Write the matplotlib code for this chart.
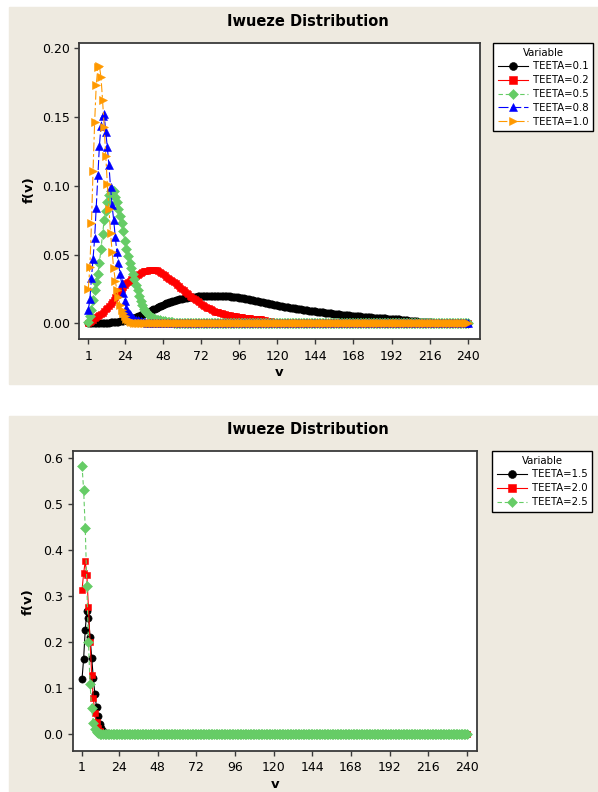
import numpy as np
import matplotlib
matplotlib.use("Agg")
import matplotlib.pyplot as plt
from matplotlib.patches import Rectangle

W, H = 598, 792
BEIGE = "#EEEAE0"
FRAME = "#3a3a3a"
plt.rcParams['font.family'] = ['DejaVu Sans']

#%% data (f(v) for v = 1..240, unlisted tail = 0)
v = np.arange(1, 241)
xticks = [1, 24, 48, 72, 96, 120, 144, 168, 192, 216, 240]
yticks_top = [0.00, 0.05, 0.10, 0.15, 0.20]
yticks_bot = [0.0, 0.1, 0.2, 0.3, 0.4, 0.5, 0.6]

teeta_01 = [
    0.0000, 0.0000, 0.0000, 0.0001, 0.0001, 0.0001, 0.0002, 0.0002, 0.0003, 0.0003,
    0.0004, 0.0004, 0.0005, 0.0006, 0.0007, 0.0008, 0.0009, 0.0010, 0.0011, 0.0013,
    0.0015, 0.0017, 0.0019, 0.0022, 0.0025, 0.0028, 0.0031, 0.0035, 0.0038, 0.0042,
    0.0046, 0.0050, 0.0055, 0.0060, 0.0065, 0.0070, 0.0075, 0.0080, 0.0085, 0.0090,
    0.0096, 0.0101, 0.0107, 0.0112, 0.0118, 0.0123, 0.0129, 0.0134, 0.0140, 0.0145,
    0.0149, 0.0153, 0.0157, 0.0161, 0.0165, 0.0168, 0.0171, 0.0174, 0.0177, 0.0180,
    0.0182, 0.0184, 0.0186, 0.0188, 0.0190, 0.0191, 0.0192, 0.0194, 0.0195, 0.0196,
    0.0197, 0.0197, 0.0198, 0.0198, 0.0199, 0.0199, 0.0200, 0.0200, 0.0200, 0.0200,
    0.0200, 0.0200, 0.0199, 0.0199, 0.0199, 0.0198, 0.0198, 0.0197, 0.0197, 0.0196,
    0.0195, 0.0194, 0.0192, 0.0191, 0.0189, 0.0187, 0.0185, 0.0183, 0.0181, 0.0178,
    0.0176, 0.0174, 0.0172, 0.0169, 0.0167, 0.0165, 0.0162, 0.0160, 0.0157, 0.0155,
    0.0153, 0.0150, 0.0148, 0.0145, 0.0143, 0.0141, 0.0138, 0.0136, 0.0133, 0.0131,
    0.0129, 0.0127, 0.0124, 0.0122, 0.0120, 0.0118, 0.0116, 0.0114, 0.0112, 0.0110,
    0.0108, 0.0106, 0.0105, 0.0103, 0.0101, 0.0099, 0.0098, 0.0096, 0.0095, 0.0093,
    0.0092, 0.0090, 0.0089, 0.0087, 0.0086, 0.0084, 0.0083, 0.0081, 0.0080, 0.0078,
    0.0077, 0.0075, 0.0074, 0.0072, 0.0071, 0.0070, 0.0068, 0.0067, 0.0065, 0.0064,
    0.0063, 0.0062, 0.0060, 0.0059, 0.0058, 0.0057, 0.0056, 0.0054, 0.0053, 0.0052,
    0.0051, 0.0050, 0.0049, 0.0047, 0.0046, 0.0045, 0.0044, 0.0044, 0.0043, 0.0042,
    0.0041, 0.0040, 0.0040, 0.0039, 0.0038, 0.0037, 0.0036, 0.0036, 0.0035, 0.0034,
    0.0033, 0.0033, 0.0032, 0.0032, 0.0031, 0.0030, 0.0029, 0.0027, 0.0026, 0.0024,
    0.0023, 0.0021, 0.0020, 0.0018, 0.0017, 0.0016, 0.0015, 0.0014, 0.0013, 0.0012,
    0.0011, 0.0010, 0.0009, 0.0009, 0.0008, 0.0007, 0.0007, 0.0006, 0.0006, 0.0005,
    0.0005, 0.0004, 0.0004, 0.0004, 0.0003, 0.0003, 0.0003, 0.0002, 0.0002, 0.0002,
    0.0002, 0.0001, 0.0001, 0.0001, 0.0001, 0.0001, 0.0001, 0.0001, 0.0001, 0.0001,
]
teeta_02 = [
    0.0005, 0.0010, 0.0018, 0.0027, 0.0036, 0.0044, 0.0052, 0.0060, 0.0068, 0.0077,
    0.0089, 0.0101, 0.0113, 0.0126, 0.0140, 0.0156, 0.0172, 0.0188, 0.0204, 0.0220,
    0.0234, 0.0248, 0.0262, 0.0276, 0.0290, 0.0300, 0.0310, 0.0320, 0.0330, 0.0340,
    0.0347, 0.0354, 0.0361, 0.0368, 0.0375, 0.0378, 0.0381, 0.0384, 0.0387, 0.0390,
    0.0390, 0.0390, 0.0389, 0.0386, 0.0380, 0.0374, 0.0366, 0.0358, 0.0349, 0.0340,
    0.0332, 0.0324, 0.0316, 0.0308, 0.0300, 0.0290, 0.0280, 0.0270, 0.0260, 0.0250,
    0.0240, 0.0230, 0.0220, 0.0210, 0.0200, 0.0192, 0.0184, 0.0176, 0.0168, 0.0160,
    0.0152, 0.0144, 0.0136, 0.0128, 0.0120, 0.0114, 0.0108, 0.0102, 0.0096, 0.0090,
    0.0086, 0.0083, 0.0079, 0.0076, 0.0072, 0.0069, 0.0066, 0.0064, 0.0061, 0.0058,
    0.0056, 0.0054, 0.0052, 0.0050, 0.0048, 0.0046, 0.0045, 0.0043, 0.0042, 0.0040,
    0.0039, 0.0038, 0.0036, 0.0035, 0.0034, 0.0033, 0.0032, 0.0031, 0.0029, 0.0028,
    0.0025, 0.0023, 0.0020, 0.0018, 0.0015, 0.0014, 0.0012, 0.0011, 0.0010, 0.0009,
    0.0008, 0.0007, 0.0006, 0.0006, 0.0005, 0.0004, 0.0004, 0.0003, 0.0003, 0.0003,
    0.0002, 0.0002, 0.0002, 0.0002, 0.0002, 0.0001, 0.0001, 0.0001, 0.0001, 0.0001,
]
teeta_05 = [
    0.0010, 0.0050, 0.0100, 0.0170, 0.0240, 0.0300, 0.0360, 0.0440, 0.0540, 0.0650,
    0.0750, 0.0820, 0.0880, 0.0930, 0.0960, 0.0970, 0.0960, 0.0920, 0.0880, 0.0830,
    0.0780, 0.0730, 0.0670, 0.0600, 0.0540, 0.0490, 0.0440, 0.0400, 0.0360, 0.0320,
    0.0280, 0.0240, 0.0200, 0.0165, 0.0130, 0.0105, 0.0088, 0.0073, 0.0060, 0.0050,
    0.0042, 0.0036, 0.0031, 0.0027, 0.0024, 0.0021, 0.0018, 0.0016, 0.0014, 0.0012,
    0.0010, 0.0009, 0.0008, 0.0007, 0.0006, 0.0005, 0.0004, 0.0003, 0.0002, 0.0001,
]
teeta_08 = [
    0.0096, 0.0174, 0.0330, 0.0470, 0.0620, 0.0840, 0.1075, 0.1290, 0.1437, 0.1510,
    0.1520, 0.1390, 0.1280, 0.1150, 0.0990, 0.0857, 0.0749, 0.0628, 0.0520, 0.0435,
    0.0360, 0.0290, 0.0220, 0.0160, 0.0115, 0.0085, 0.0065, 0.0050, 0.0040, 0.0033,
    0.0027, 0.0022, 0.0018, 0.0015, 0.0012, 0.0010, 0.0008, 0.0006, 0.0005, 0.0004,
    0.0003, 0.0002, 0.0001,
]
teeta_10 = [
    0.0250, 0.0410, 0.0730, 0.1110, 0.1460, 0.1730, 0.1860, 0.1870, 0.1790, 0.1620,
    0.1430, 0.1220, 0.1010, 0.0830, 0.0660, 0.0520, 0.0400, 0.0310, 0.0240, 0.0190,
    0.0133, 0.0095, 0.0072, 0.0050, 0.0035, 0.0024, 0.0016, 0.0010, 0.0007, 0.0004,
]
teeta_15 = [
    0.119, 0.163, 0.226, 0.268, 0.253, 0.211, 0.165, 0.122, 0.087, 0.058,
    0.039, 0.022, 0.012, 0.006, 0.003, 0.0015, 0.0007, 0.0003, 0.0001,
]
teeta_20 = [
    0.312, 0.349, 0.375, 0.346, 0.275, 0.200, 0.129, 0.079, 0.045, 0.025,
    0.012, 0.006, 0.003, 0.0012, 0.0005,
]
teeta_25 = [
    0.583, 0.531, 0.448, 0.322, 0.199, 0.109, 0.0565, 0.0246, 0.010, 0.004,
    0.0015, 0.0005,
]

top_labels = ["TEETA=0.1", "TEETA=0.2", "TEETA=0.5", "TEETA=0.8", "TEETA=1.0"]
bot_labels = ["TEETA=1.5", "TEETA=2.0", "TEETA=2.5"]


def full(head):
    return np.array(head + [0.0] * (len(v) - len(head)))


#%% styles (Minitab default group symbols)
STYLES = [
    dict(color="black", marker="o", ms=5.2, dashes=()),
    dict(color="#FF0000", marker="s", ms=4.8, dashes=()),
    dict(color="#66CC66", marker="D", ms=4.6, dashes=(4, 2.5)),
    dict(color="#0000FF", marker="^", ms=5.8, dashes=(9, 2.5)),
    dict(color="#FF9900", marker=">", ms=5.8, dashes=(8, 2.5, 2.5, 2.5)),
]


def fx(px):
    return px / W


def fy(py):
    return 1 - py / H


def panel(fig, box, xlim, ylim, yticks, yfmt, series, labels, leg_xy,
          title_y, ylab_xy, xlab_xy):
    l, t, r, b = box
    ax = fig.add_axes([fx(l), fy(b), (r - l) / W, (b - t) / H])
    handles = []
    for vals, lab, st in zip(series, labels, STYLES):
        ln, = ax.plot(v, full(vals), color=st["color"], lw=0.8,
                      marker=st["marker"], ms=st["ms"], mec=st["color"],
                      mew=0.4, label=lab)
        if st["dashes"]:
            ln.set_dashes(st["dashes"])
        handles.append(ln)
    ax.set_xlim(*xlim)
    ax.set_ylim(*ylim)
    ax.set_xticks(xticks)
    ax.set_yticks(yticks)
    ax.set_yticklabels([yfmt % y for y in yticks])
    for s in ax.spines.values():
        s.set_color(FRAME)
        s.set_linewidth(1.3)
    ax.tick_params(direction="out", length=3.5, width=1, color=FRAME,
                   labelsize=9, pad=3)
    ax.tick_params(axis="x", pad=4)

    fig.text(fx(308), fy(title_y), "Iwueze Distribution", ha="center",
             va="center", fontsize=10.5, fontweight="bold")
    fig.text(fx(ylab_xy[0]), fy(ylab_xy[1]), "f(v)", rotation=90,
             ha="center", va="center", fontsize=9.5, fontweight="bold")
    fig.text(fx(xlab_xy[0]), fy(xlab_xy[1]), "v", ha="center",
             va="center", fontsize=9.5, fontweight="bold")

    leg = fig.legend(handles=handles, loc="upper left",
                     bbox_to_anchor=(fx(leg_xy[0]), fy(leg_xy[1])),
                     bbox_transform=fig.transFigure, title="Variable",
                     fontsize=7.3, title_fontsize=7.3, frameon=True,
                     fancybox=False, edgecolor="black", framealpha=1,
                     borderaxespad=0, borderpad=0.45, handlelength=3.0,
                     handletextpad=0.5, labelspacing=0.38, markerscale=1.1)
    leg.get_frame().set_linewidth(1.0)
    return ax


#%%
fig = plt.figure(figsize=(W / 100, H / 100), dpi=100)
fig.patch.set_facecolor("white")
fig.patches.append(Rectangle((fx(9), fy(384)), 1 - fx(9), (384 - 7) / H,
                             transform=fig.transFigure, color=BEIGE, zorder=-10))
fig.patches.append(Rectangle((fx(9), 0), 1 - fx(9), (H - 416) / H,
                             transform=fig.transFigure, color=BEIGE, zorder=-10))

panel(fig, (79, 42.7, 480, 339.3), (-4.85, 247.7), (-0.0116, 0.204),
      yticks_top, "%.2f",
      [teeta_01, teeta_02, teeta_05, teeta_08, teeta_10], top_labels,
      (493, 43), 21.7, (29, 190), (279.5, 372.7))

panel(fig, (72.5, 451, 477, 751), (-4.9, 246.2), (-0.037, 0.615),
      yticks_bot, "%.1f",
      [teeta_15, teeta_20, teeta_25], bot_labels,
      (492, 451), 430, (28.6, 601.7), (274.8, 785))

fig.savefig("out.png", dpi=100)
